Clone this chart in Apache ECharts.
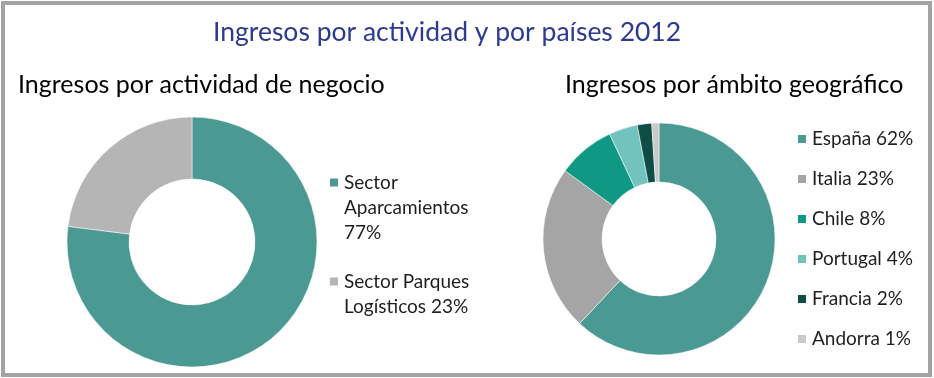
<!DOCTYPE html>
<html><head><meta charset="utf-8">
<script src="https://cdn.jsdelivr.net/npm/echarts@6/dist/echarts.min.js"></script>
<style>html,body{margin:0;padding:0;background:#fff}#c{width:934px;height:378px}</style>
</head><body><div id="c"></div>
<script>
const actividadNames = ['Sector Aparcamientos', 'Sector Parques Logísticos'];
const actividadValues = [77, 23];
const paisNames = ['España', 'Italia', 'Chile', 'Portugal', 'Francia', 'Andorra'];
const paisValues = [62, 23, 8, 4, 2, 1];

const actividadColors = ['#4A9A93', '#B5B5B5'];
const paisColors = ['#4A9A93', '#A5A5A5', '#0F9985', '#72C2BD', '#0E4D46', '#C9C9C9'];
const FONT = 'Lato';

const chart = echarts.init(document.getElementById('c'));
const pct = (names, vals) => { const m = {}; names.forEach((n, i) => m[n] = vals[i]); return m; };
const aMap = pct(actividadNames, actividadValues);
const pMap = pct(paisNames, paisValues);

chart.setOption({
  animation: false,
  backgroundColor: '#fff',
  title: [
    { text: 'Ingresos por actividad y por países 2012', left: 208, top: 14,
      textStyle: { fontFamily: FONT, fontSize: 26.5, fontWeight: 'normal', color: '#2C3A90' } },
    { text: 'Ingresos por actividad de negocio', left: 13, top: 67,
      textStyle: { fontFamily: FONT, fontSize: 25, fontWeight: 'normal', color: '#000' } },
    { text: 'Ingresos por ámbito geográfico', left: 560, top: 67,
      textStyle: { fontFamily: FONT, fontSize: 25, fontWeight: 'normal', color: '#000' } }
  ],
  legend: [
    { data: actividadNames, orient: 'vertical', left: 323, top: 115, itemGap: -1,
      icon: 'rect', itemWidth: 10, itemHeight: 10, selectedMode: false,
      formatter: n => n === actividadNames[0]
        ? '\n\nSector\nAparcamientos\n' + aMap[n] + '%'
        : '\nSector Parques\nLogísticos ' + aMap[n] + '%',
      textStyle: { fontFamily: FONT, fontSize: 19, color: '#1E1E1E', lineHeight: 25 } },
    { data: paisNames, orient: 'vertical', left: 791, top: 124, itemGap: 20,
      icon: 'rect', itemWidth: 10, itemHeight: 10, selectedMode: false,
      formatter: n => n + ' ' + pMap[n] + '%',
      textStyle: { fontFamily: FONT, fontSize: 19, color: '#1E1E1E', lineHeight: 20 } }
  ],
  series: [
    { type: 'pie', center: [192, 242], radius: [63, 125], startAngle: 90, clockwise: true,
      label: { show: false }, labelLine: { show: false }, silent: true,
      itemStyle: { borderColor: '#fff', borderWidth: 0.5 },
      data: actividadNames.map((n, i) => ({ name: n, value: actividadValues[i], itemStyle: { color: actividadColors[i] } })) },
    { type: 'pie', center: [659, 239], radius: [57, 116], startAngle: 90, clockwise: true,
      label: { show: false }, labelLine: { show: false }, silent: true,
      itemStyle: { borderColor: '#fff', borderWidth: 0.5 },
      data: paisNames.map((n, i) => ({ name: n, value: paisValues[i], itemStyle: { color: paisColors[i] } })) }
  ],
  graphic: [
    { type: 'rect', shape: { x: 3, y: 3, width: 927, height: 372 }, silent: true,
      style: { fill: 'none', stroke: '#A3A3A3', lineWidth: 4 } }
  ]
});
</script></body></html>
